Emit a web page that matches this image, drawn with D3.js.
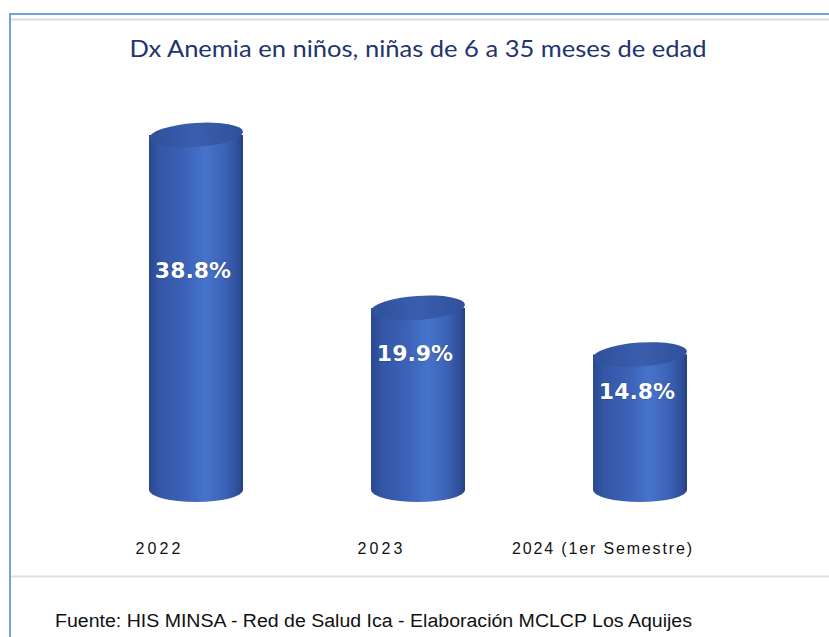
<!DOCTYPE html>
<html lang="es">
<head>
<meta charset="UTF-8" />
<title>Dx Anemia en niños, niñas de 6 a 35 meses de edad</title>
<script src="https://cdnjs.cloudflare.com/ajax/libs/d3/7.8.5/d3.min.js"></script>
<style>
  * { margin: 0; padding: 0; box-sizing: border-box; }
  body { background: #fff; width: 829px; height: 637px; overflow: hidden; }
  svg { display: block; }
</style>
</head>
<body>
<svg id="chart" width="829" height="637"></svg>
<script>
  // datos
  const categorias = ["2022", "2023", "2024 (1er Semestre)"];
  const valores = [38.8, 19.9, 14.8];
  const etiquetas = ["38.8%", "19.9%", "14.8%"];
  const titulo = "Dx Anemia en niños, niñas de 6 a 35 meses de edad";
  const fuente = "Fuente: HIS MINSA - Red de Salud Ica - Elaboración MCLCP Los Aquijes";

  // posición de la etiqueta dentro del cilindro (fracción desde arriba)
  const labelFrac = [0.38, 0.25, 0.27];

  const svg = d3.select("#chart");

  // marco
  svg.append("line").attr("x1", 9).attr("x2", 829).attr("y1", 14).attr("y2", 14)
    .attr("stroke", "#6fa5dc").attr("stroke-width", 2);
  svg.append("line").attr("x1", 10).attr("x2", 10).attr("y1", 13).attr("y2", 637)
    .attr("stroke", "#6fa5dc").attr("stroke-width", 2);
  svg.append("line").attr("x1", 11).attr("x2", 829).attr("y1", 19.5).attr("y2", 19.5)
    .attr("stroke", "#dcdcdc").attr("stroke-width", 2);
  svg.append("line").attr("x1", 11).attr("x2", 829).attr("y1", 576.5).attr("y2", 576.5)
    .attr("stroke", "#e0e0e0").attr("stroke-width", 2);

  // título
  svg.append("text")
    .attr("x", 418).attr("y", 57)
    .attr("text-anchor", "middle")
    .attr("font-family", "Lato, 'Open Sans', sans-serif")
    .attr("font-size", 23)
    .attr("fill", "#1f3570")
    .attr("textLength", 577)
    .attr("lengthAdjust", "spacingAndGlyphs")
    .text(titulo);

  // escalas
  const x = d3.scalePoint().domain(categorias).range([196, 640]);
  const y = d3.scaleLinear().domain([0, 40]).range([490, 124]);
  const rx = 47, ry = 12;

  // degradados
  const defs = svg.append("defs");
  const gBody = defs.append("linearGradient").attr("id", "cuerpo")
    .attr("x1", "0%").attr("x2", "100%").attr("y1", "0%").attr("y2", "0%");
  [[0, "#2a4890"], [0.12, "#3457a6"], [0.4, "#3c63b9"], [0.6, "#4674cb"],
   [0.82, "#3b61b5"], [0.95, "#2e4e98"], [1, "#263f80"]]
    .forEach(([o, c]) => gBody.append("stop").attr("offset", o).attr("stop-color", c));
  const gTop = defs.append("linearGradient").attr("id", "tapa")
    .attr("x1", "0%").attr("x2", "100%").attr("y1", "0%").attr("y2", "0%");
  [[0, "#30509a"], [0.5, "#3a5eae"], [1, "#30509a"]]
    .forEach(([o, c]) => gTop.append("stop").attr("offset", o).attr("stop-color", c));

  // cilindros
  const bars = svg.selectAll("g.bar")
    .data(valores)
    .enter()
    .append("g")
    .attr("class", "bar");

  bars.append("path")
    .attr("fill", "url(#cuerpo)")
    .attr("d", (d, i) => {
      const cx = x(categorias[i]);
      const t = y(d), b = y(0);
      return `M${cx - rx},${t} L${cx - rx},${b} A${rx},${ry} 0 0 0 ${cx + rx},${b} L${cx + rx},${t} Z`;
    });

  bars.append("ellipse")
    .attr("cx", (d, i) => x(categorias[i]))
    .attr("cy", d => y(d))
    .attr("rx", rx).attr("ry", ry)
    .attr("fill", "url(#tapa)")
    .attr("transform", (d, i) => `rotate(-4 ${x(categorias[i])} ${y(d)})`);

  // etiquetas de valor
  bars.append("text")
    .attr("x", (d, i) => x(categorias[i]) - 3)
    .attr("y", (d, i) => y(d) + labelFrac[i] * (y(0) - y(d)))
    .attr("dy", "0.36em")
    .attr("text-anchor", "middle")
    .attr("font-family", "'DejaVu Sans', sans-serif")
    .attr("font-weight", "bold")
    .attr("font-size", 22)
    .attr("fill", "#fff")
    .attr("stroke", "#1c3470")
    .attr("stroke-width", 0.6)
    .attr("paint-order", "stroke")
    .text((d, i) => etiquetas[i]);

  // categorías
  svg.selectAll("text.cat")
    .data(categorias)
    .enter()
    .append("text")
    .attr("class", "cat")
    .attr("x", d => x(d) - 38)
    .attr("y", 554)
    .attr("text-anchor", "middle")
    .attr("font-family", "'Liberation Sans', Arial, sans-serif")
    .attr("font-size", 16)
    .attr("fill", "#111")
    .attr("textLength", d => d.length > 4 ? 180 : 45)
    .attr("lengthAdjust", "spacing")
    .text(d => d);

  // fuente
  svg.append("text")
    .attr("x", 55).attr("y", 627)
    .attr("font-family", "'Liberation Sans', Arial, sans-serif")
    .attr("font-size", 18)
    .attr("fill", "#111")
    .attr("textLength", 637)
    .attr("lengthAdjust", "spacingAndGlyphs")
    .text(fuente);
</script>
</body>
</html>
